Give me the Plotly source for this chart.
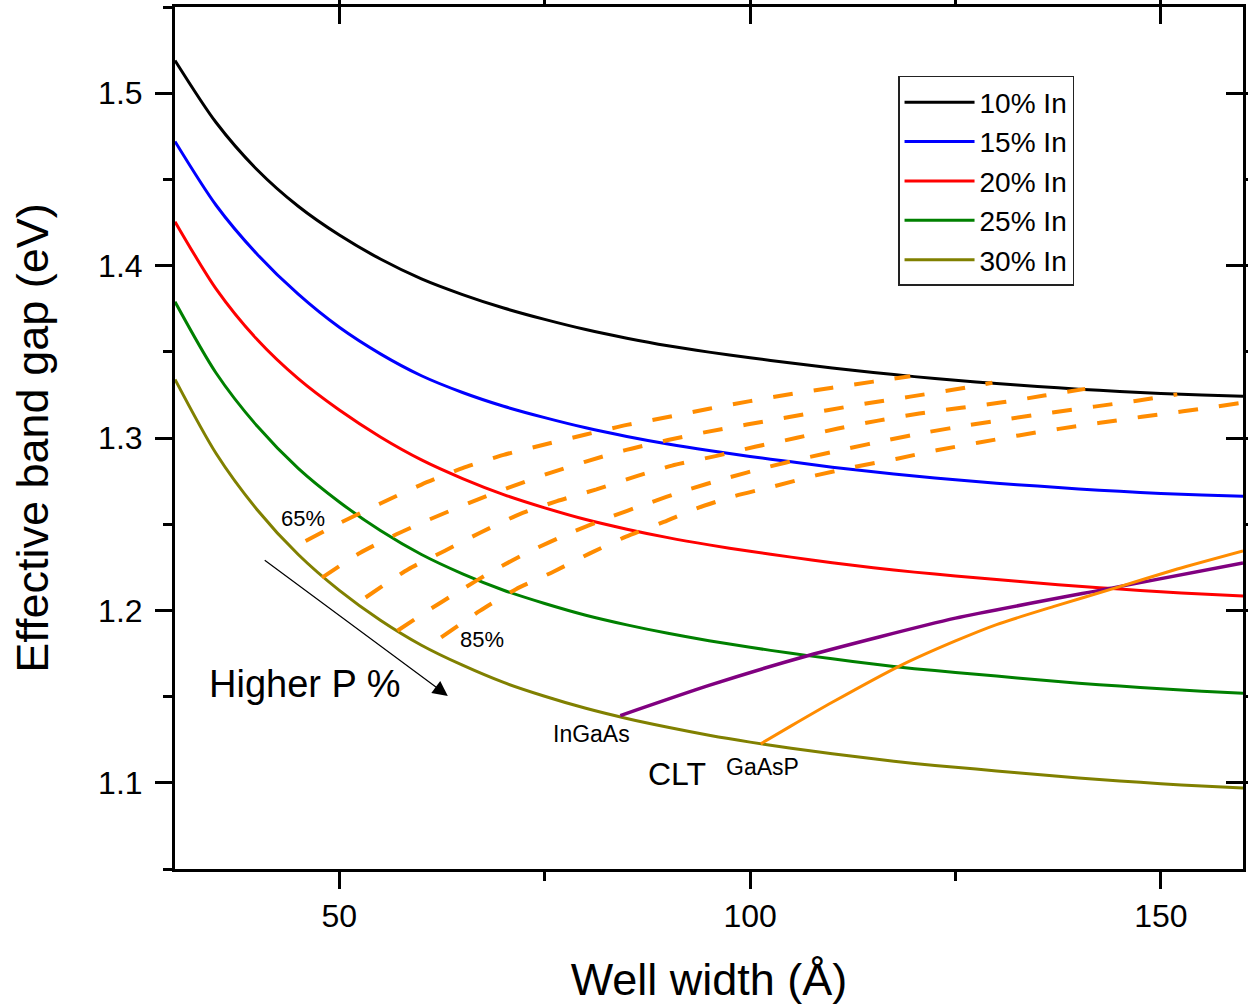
import plotly.graph_objects as go

FONT = "Arial, Liberation Sans, sans-serif"

# ---- In-content curves (well width in Angstrom, effective band gap in eV) ----
well_width = [30, 35, 40, 45, 50, 55, 60, 65, 70, 75, 80, 85, 90, 95, 100, 105, 110, 115, 120,
              125, 130, 135, 140, 145, 150, 155, 160]
gap_in10 = [1.5190, 1.4830, 1.4556, 1.4344, 1.4177, 1.4038, 1.3923, 1.3832, 1.3754, 1.3688, 1.3629,
            1.3579, 1.3535, 1.3498, 1.3465, 1.3435, 1.3406, 1.3380, 1.3356, 1.3335, 1.3316, 1.3299,
            1.3283, 1.3270, 1.3258, 1.3249, 1.3242]
gap_in15 = [1.4720, 1.4350, 1.4066, 1.3834, 1.3642, 1.3488, 1.3361, 1.3264, 1.3184, 1.3118, 1.3059,
            1.3009, 1.2965, 1.2927, 1.2893, 1.2862, 1.2831, 1.2804, 1.2779, 1.2758, 1.2738, 1.2721,
            1.2704, 1.2691, 1.2678, 1.2669, 1.2662]
gap_in20 = [1.4255, 1.3865, 1.3571, 1.3344, 1.3162, 1.3006, 1.2873, 1.2765, 1.2672, 1.2595, 1.2527,
            1.2471, 1.2422, 1.2380, 1.2343, 1.2309, 1.2277, 1.2248, 1.2222, 1.2200, 1.2179, 1.2159,
            1.2140, 1.2124, 1.2108, 1.2095, 1.2084]
gap_in25 = [1.3790, 1.3377, 1.3069, 1.2824, 1.2629, 1.2463, 1.2324, 1.2212, 1.2117, 1.2040, 1.1972,
            1.1916, 1.1867, 1.1824, 1.1786, 1.1751, 1.1719, 1.1689, 1.1662, 1.1640, 1.1619, 1.1598,
            1.1578, 1.1561, 1.1545, 1.1531, 1.1520]
gap_in30 = [1.3340, 1.2910, 1.2584, 1.2324, 1.2116, 1.1943, 1.1798, 1.1682, 1.1582, 1.1502, 1.1432,
            1.1373, 1.1322, 1.1276, 1.1236, 1.1201, 1.1169, 1.1139, 1.1112, 1.1090, 1.1069, 1.1048,
            1.1028, 1.1011, 1.0995, 1.0981, 1.0970]
in_labels = ["10% In", "15% In", "20% In", "25% In", "30% In"]
in_colors = ["#000000", "#0000FF", "#FF0000", "#008000", "#808000"]

# ---- constant-P lines (GaAsP barriers), 65% ... 85% ----
p65_x = [45.9, 50, 55, 60, 65, 70, 75, 80, 85, 90, 95, 100, 105, 110, 115, 119.5]
p65_y = [1.2403, 1.2505, 1.2620, 1.2730, 1.2825, 1.2902, 1.2962, 1.3020, 1.3076, 1.3122, 1.3170,
         1.3214, 1.3255, 1.3292, 1.3327, 1.3358]
p70_x = [47.9, 52.5, 56.6, 61, 65.9, 70.3, 75.2, 79.9, 84.7, 90, 94.6, 99.6, 104.6, 109.4, 114.5,
         119.5, 124.5, 129.5]
p70_y = [1.219, 1.2333, 1.2433, 1.2528, 1.2625, 1.2707, 1.279, 1.2862, 1.2928, 1.2988, 1.3034, 1.3078,
         1.312, 1.3161, 1.3203, 1.324, 1.3278, 1.332]
p75_x = [53.2, 58.4, 62.8, 67.2, 71.9, 76.5, 81.3, 86.2, 90.5, 95.8, 100.6, 105.7, 110.7, 115.6,
         120.6, 125.7, 130.7, 135.8, 140.8]
p75_y = [1.2075, 1.2239, 1.2345, 1.2452, 1.2557, 1.2634, 1.2702, 1.2779, 1.284, 1.2895, 1.2949,
         1.3001, 1.3055, 1.3101, 1.3142, 1.3175, 1.3207, 1.3246, 1.3285]
p80_x = [57.07, 60.5, 64.7, 68.9, 73.3, 77.9, 82.7, 87.4, 92.2, 97.2, 102, 106.8, 111.8, 116.7, 121.7,
         126.8, 131.8, 136.8, 141.9, 146.9, 152]
p80_y = [1.1882, 1.199, 1.2115, 1.2235, 1.2345, 1.2445, 1.2537, 1.2618, 1.2697, 1.2768, 1.283, 1.2885,
         1.2938, 1.2988, 1.3035, 1.3076, 1.3113, 1.3148, 1.3182, 1.3215, 1.3253]
p85_x = [62.4, 67.1, 71.5, 76.0, 80.5, 84.9, 89.5, 93.5, 98.1, 103, 108, 112.8, 117.9, 122.7, 127.7,
         132.7, 137.6, 142.6, 147.7, 152.7, 160]
p85_y = [1.1843, 1.1997, 1.2123, 1.2223, 1.2331, 1.2428, 1.2513, 1.2592, 1.2663, 1.2721, 1.2783,
         1.2833, 1.288, 1.2929, 1.2972, 1.3015, 1.3053, 1.3088, 1.3123, 1.3155, 1.3205]

# ---- critical layer thickness lines ----
clt_ingaas_x = [84.2, 95, 107, 125, 144.6, 160]
clt_ingaas_y = [1.139, 1.1565, 1.1737, 1.1955, 1.2135, 1.2275]
clt_gaasp_x = [101.3, 105, 110, 118.3, 125, 130, 137, 144.6, 152, 160]
clt_gaasp_y = [1.1226, 1.1330, 1.1467, 1.1680, 1.1823, 1.1918, 1.2023, 1.2132, 1.2240, 1.2345]

fig = go.Figure()

for ys, name, col in zip([gap_in10, gap_in15, gap_in20, gap_in25, gap_in30], in_labels, in_colors):
    fig.add_trace(go.Scatter(x=well_width, y=ys, mode="lines", name=name,
                             line=dict(color=col, width=3, shape="spline", smoothing=0.8)))

ORANGE = "#FF8C00"
for px_, py_, nm in [(p65_x, p65_y, "65% P"), (p70_x, p70_y, "70% P"), (p75_x, p75_y, "75% P"),
                     (p80_x, p80_y, "80% P"), (p85_x, p85_y, "85% P")]:
    fig.add_trace(go.Scatter(x=px_, y=py_, mode="lines", name=nm, showlegend=False,
                             line=dict(color=ORANGE, width=4, dash="20px,21px", shape="spline", smoothing=0.6)))

fig.add_trace(go.Scatter(x=clt_ingaas_x, y=clt_ingaas_y, mode="lines", name="InGaAs CLT", showlegend=False,
                         line=dict(color="#800080", width=3.5, shape="spline", smoothing=0.6)))
fig.add_trace(go.Scatter(x=clt_gaasp_x, y=clt_gaasp_y, mode="lines", name="GaAsP CLT", showlegend=False,
                         line=dict(color=ORANGE, width=3, shape="spline", smoothing=0.6)))

# dummy trace for mirrored (inside-tick) axes
fig.add_trace(go.Scatter(x=[None], y=[None], xaxis="x2", yaxis="y2", showlegend=False, hoverinfo="skip"))

XR = [30, 160]
YR = [1.05, 1.55]
tickfont = dict(family=FONT, size=32, color="black")

common_x = dict(range=XR, tick0=0, dtick=50, showgrid=False, zeroline=False, showline=True,
                linecolor="black", linewidth=3, tickwidth=3, ticklen=17, tickcolor="black",
                minor=dict(dtick=25, tick0=0, ticklen=9, tickwidth=3, tickcolor="black", showgrid=False))
common_y = dict(range=YR, tick0=1.1, dtick=0.1, showgrid=False, zeroline=False, showline=True,
                linecolor="black", linewidth=3, tickwidth=3, ticklen=17, tickcolor="black",
                minor=dict(dtick=0.05, tick0=1.05, ticklen=9, tickwidth=3, tickcolor="black", showgrid=False))

fig.update_layout(
    width=1248, height=1006,
    margin=dict(l=175, r=5, t=7, b=137),
    paper_bgcolor="white", plot_bgcolor="white",
    font=dict(family=FONT, color="black"),
    xaxis=dict(**common_x, ticks="outside", tickfont=tickfont, ticklabelstandoff=0,
               title=dict(text="Well width (Å)", font=dict(family=FONT, size=45, color="black"), standoff=31)),
    yaxis=dict(**common_y, ticks="outside", tickfont=tickfont, ticklabelstandoff=6, tickformat=".1f",
               title=dict(text="Effective band gap (eV)", font=dict(family=FONT, size=45, color="black"),
                          standoff=36)),
    xaxis2=dict(**common_x, ticks="inside", overlaying="x", side="top", anchor="y", showticklabels=False),
    yaxis2=dict(**common_y, ticks="inside", overlaying="y", side="right", anchor="x", showticklabels=False),
    legend=dict(x=0.677, y=0.92, xanchor="left", yanchor="top", bgcolor="white",
                bordercolor="#222222", borderwidth=1.5, font=dict(family=FONT, size=28, color="black"),
                itemwidth=70, tracegroupgap=0),
    showlegend=True,
)

ann_font = dict(family=FONT, color="black")
fig.add_annotation(x=45.63, y=1.2534, text="65%", showarrow=False, font=dict(**ann_font, size=22))
fig.add_annotation(x=67.33, y=1.1834, text="85%", showarrow=False, font=dict(**ann_font, size=22))
fig.add_annotation(x=45.87, y=1.1573, text="Higher P %", showarrow=False, font=dict(**ann_font, size=38))
fig.add_annotation(x=80.67, y=1.1284, text="InGaAs", showarrow=False, font=dict(**ann_font, size=23))
fig.add_annotation(x=101.55, y=1.1093, text="GaAsP", showarrow=False, font=dict(**ann_font, size=23))
fig.add_annotation(x=91.05, y=1.1052, text="CLT", showarrow=False, font=dict(**ann_font, size=32))
fig.add_annotation(x=63.21, y=1.1504, ax=40.74, ay=1.2297, axref="x", ayref="y", xref="x", yref="y",
                   text="", showarrow=True, arrowhead=2, arrowsize=2.5, arrowwidth=1.2,
                   arrowcolor="black", standoff=0)

fig.write_html("out.html", config={"displayModeBar": False},
               post_script="document.body.style.margin='0px';document.body.style.overflow='hidden';")
